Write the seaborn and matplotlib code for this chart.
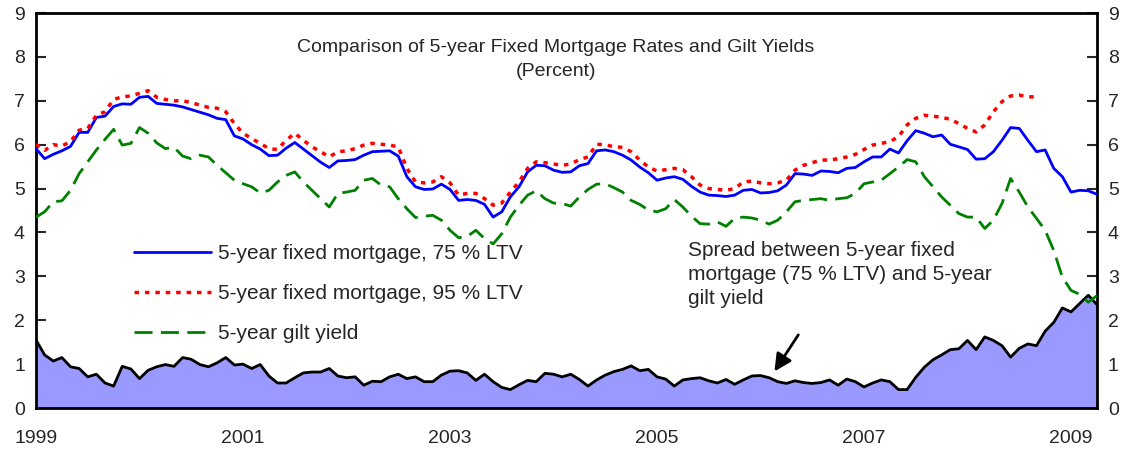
import numpy as np
import pandas as pd
import matplotlib
matplotlib.use("Agg")
import matplotlib.pyplot as plt
import seaborn as sns

# monthly data, Jan 1999 - Apr 2009
months = pd.date_range("1999-01-01", periods=124, freq="MS")

mortgage_75 = [
    5.91, 5.68, 5.78, 5.86, 5.96, 6.28, 6.28, 6.62, 6.65, 6.87, 6.93, 6.92,
    7.08, 7.10, 6.94, 6.92, 6.90, 6.86, 6.80, 6.74, 6.68, 6.60, 6.57, 6.20,
    6.13, 6.00, 5.90, 5.75, 5.76, 5.92, 6.05, 5.90, 5.75, 5.60, 5.48, 5.63,
    5.64, 5.66, 5.76, 5.84, 5.85, 5.86, 5.74, 5.27, 5.04, 4.98, 4.99, 5.10,
    4.98, 4.73, 4.75, 4.73, 4.64, 4.35, 4.47, 4.81, 5.04, 5.38, 5.53, 5.52,
    5.42, 5.37, 5.38, 5.52, 5.57, 5.86, 5.88, 5.84, 5.76, 5.65, 5.49, 5.36,
    5.19, 5.24, 5.27, 5.21, 5.05, 4.92, 4.85, 4.84, 4.82, 4.85, 4.96, 4.98,
    4.90, 4.91, 4.95, 5.08, 5.34, 5.33, 5.30, 5.40, 5.39, 5.36, 5.46, 5.48,
    5.61, 5.72, 5.72, 5.90, 5.81, 6.09, 6.32, 6.26, 6.18, 6.22, 6.01, 5.95,
    5.89, 5.67, 5.68, 5.84, 6.10, 6.39, 6.37, 6.10, 5.84, 5.88, 5.46, 5.27,
    4.92, 4.96, 4.95, 4.87,
]

mortgage_95 = [
    6.01, 5.87, 6.00, 5.97, 6.07, 6.33, 6.37, 6.67, 6.75, 7.03, 7.09, 7.11,
    7.17, 7.23, 7.08, 7.03, 7.00, 7.00, 6.96, 6.90, 6.85, 6.83, 6.75, 6.48,
    6.26, 6.14, 6.03, 5.91, 5.89, 6.10, 6.26, 6.10, 5.95, 5.84, 5.72, 5.84,
    5.86, 5.91, 5.99, 6.03, 6.01, 5.99, 5.95, 5.46, 5.15, 5.13, 5.15, 5.27,
    5.13, 4.85, 4.89, 4.89, 4.77, 4.62, 4.67, 4.92, 5.15, 5.46, 5.61, 5.59,
    5.56, 5.53, 5.56, 5.66, 5.72, 6.01, 6.00, 5.95, 5.94, 5.84, 5.65, 5.49,
    5.40, 5.43, 5.46, 5.43, 5.27, 5.08, 5.00, 4.98, 4.96, 5.00, 5.15, 5.17,
    5.13, 5.11, 5.13, 5.19, 5.42, 5.53, 5.59, 5.65, 5.65, 5.68, 5.72, 5.78,
    5.89, 5.99, 6.03, 6.07, 6.18, 6.45, 6.60, 6.67, 6.65, 6.62, 6.58, 6.48,
    6.37, 6.29, 6.45, 6.75, 6.98, 7.11, 7.13, 7.09, 7.09, np.nan, np.nan, np.nan,
    np.nan, np.nan, np.nan, np.nan,
]

gilt_5y = [
    4.35, 4.47, 4.70, 4.72, 4.96, 5.34, 5.61, 5.88, 6.12, 6.35, 5.99, 6.03,
    6.39, 6.26, 6.04, 5.91, 5.94, 5.74, 5.68, 5.76, 5.72, 5.53, 5.36, 5.19,
    5.11, 5.04, 4.90, 4.96, 5.15, 5.30, 5.38, 5.15, 4.96, 4.77, 4.58, 4.89,
    4.92, 4.96, 5.19, 5.23, 5.08, 5.04, 4.77, 4.54, 4.34, 4.37, 4.39, 4.28,
    4.05, 3.88, 3.91, 4.05, 3.86, 3.74, 3.97, 4.35, 4.62, 4.85, 4.95, 4.77,
    4.67, 4.66, 4.60, 4.81, 4.98, 5.10, 5.11, 5.02, 4.92, 4.73, 4.64, 4.51,
    4.47, 4.54, 4.75, 4.58, 4.37, 4.20, 4.19, 4.24, 4.14, 4.32, 4.35, 4.33,
    4.28, 4.19, 4.28, 4.47, 4.70, 4.73, 4.75, 4.77, 4.73, 4.77, 4.79, 4.89,
    5.11, 5.15, 5.19, 5.34, 5.49, 5.66, 5.61, 5.27, 5.04, 4.81, 4.62, 4.43,
    4.35, 4.35, 4.09, 4.28, 4.66, 5.23, 4.92, 4.58, 4.32, 4.05, 3.59, 2.98,
    2.68, 2.59, 2.41, 2.56,
]

spread = [
    1.55, 1.21, 1.07, 1.15, 0.94, 0.90, 0.71, 0.77, 0.57, 0.50, 0.95, 0.89,
    0.67, 0.86, 0.94, 0.99, 0.95, 1.15, 1.11, 0.99, 0.94, 1.03, 1.15, 0.98,
    1.00, 0.90, 0.99, 0.73, 0.57, 0.57, 0.69, 0.80, 0.82, 0.82, 0.90, 0.73,
    0.69, 0.71, 0.52, 0.61, 0.60, 0.71, 0.77, 0.67, 0.71, 0.60, 0.60, 0.75,
    0.84, 0.85, 0.80, 0.63, 0.77, 0.60, 0.47, 0.42, 0.53, 0.63, 0.60, 0.79,
    0.77, 0.71, 0.77, 0.65, 0.50, 0.64, 0.75, 0.83, 0.88, 0.96, 0.85, 0.88,
    0.71, 0.66, 0.50, 0.64, 0.67, 0.69, 0.62, 0.57, 0.65, 0.54, 0.64, 0.73,
    0.74, 0.69, 0.60, 0.56, 0.62, 0.58, 0.56, 0.58, 0.64, 0.52, 0.66, 0.60,
    0.48, 0.57, 0.64, 0.60, 0.42, 0.42, 0.70, 0.93, 1.10, 1.21, 1.33, 1.35,
    1.54, 1.33, 1.62, 1.54, 1.42, 1.16, 1.36, 1.46, 1.42, 1.75, 1.95, 2.28,
    2.19, 2.38, 2.57, 2.36,
]

year_ticks = [1999, 2001, 2003, 2005, 2007, 2009]

df = pd.DataFrame({
    "date": months,
    "m75": mortgage_75,
    "m95": mortgage_95,
    "gilt": gilt_5y,
    "spread": spread,
})
df["t"] = df["date"].dt.year + (df["date"].dt.month - 1) / 12.0

sns.set_style("white")
plt.rcParams["font.family"] = ["Liberation Sans", "DejaVu Sans"]

fig = plt.figure(figsize=(11.25, 4.53), dpi=100)
ax = fig.add_axes([0.032, 0.0993, 0.943, 0.872])

# spread area
ax.fill_between(df["t"], 0, df["spread"], color="#9999FF", lw=0, zorder=1)
sns.lineplot(data=df, x="t", y="spread", ax=ax, color="black", lw=2, zorder=3)

sns.lineplot(data=df, x="t", y="m75", ax=ax, color="#0000FF", lw=2,
             label="5-year fixed mortgage, 75 % LTV", zorder=4)
sns.lineplot(data=df, x="t", y="m95", ax=ax, color="#FF0000", lw=2.5,
             linestyle=(0, (1.3, 1.7)), label="5-year fixed mortgage, 95 % LTV", zorder=4)
sns.lineplot(data=df, x="t", y="gilt", ax=ax, color="#008000", lw=2,
             linestyle=(0, (6.5, 3)), label="5-year gilt yield", zorder=4)

ax.set_xlim(df["t"].iloc[0], df["t"].iloc[-1])
ax.set_ylim(0, 9)
ax.set_yticks(range(10))
ax.set_xticks(year_ticks)
ax.set_xticklabels([str(y) for y in year_ticks])
ax.set_xlabel("")
ax.set_ylabel("")

for s in ax.spines.values():
    s.set_linewidth(2)
    s.set_color("black")
    s.set_visible(True)

ax.tick_params(axis="x", direction="in", length=7, width=1.5, pad=16, labelsize=14)
ax.tick_params(axis="y", direction="in", length=7, width=1.5, pad=8, labelsize=14,
               left=True, right=True, labelright=True)

ax.legend(loc="upper left", bbox_to_anchor=(0.075, 0.462), frameon=False,
          fontsize=15, handlelength=3.7, handletextpad=0.3, labelspacing=1.0)

ax.text(0.49, 0.935, "Comparison of 5-year Fixed Mortgage Rates and Gilt Yields\n(Percent)",
        transform=ax.transAxes, ha="center", va="top", fontsize=14, linespacing=1.55)

ax.text(2005.3, 3.8, "Spread between 5-year fixed\nmortgage (75 % LTV) and 5-year\ngilt yield",
        ha="left", va="top", fontsize=15, linespacing=1.32)
ax.annotate("", xy=(2006.12, 0.78), xytext=(2006.38, 1.72),
            arrowprops=dict(arrowstyle="-|>", color="black", lw=2, mutation_scale=26))

fig.savefig("out.png", dpi=100)
